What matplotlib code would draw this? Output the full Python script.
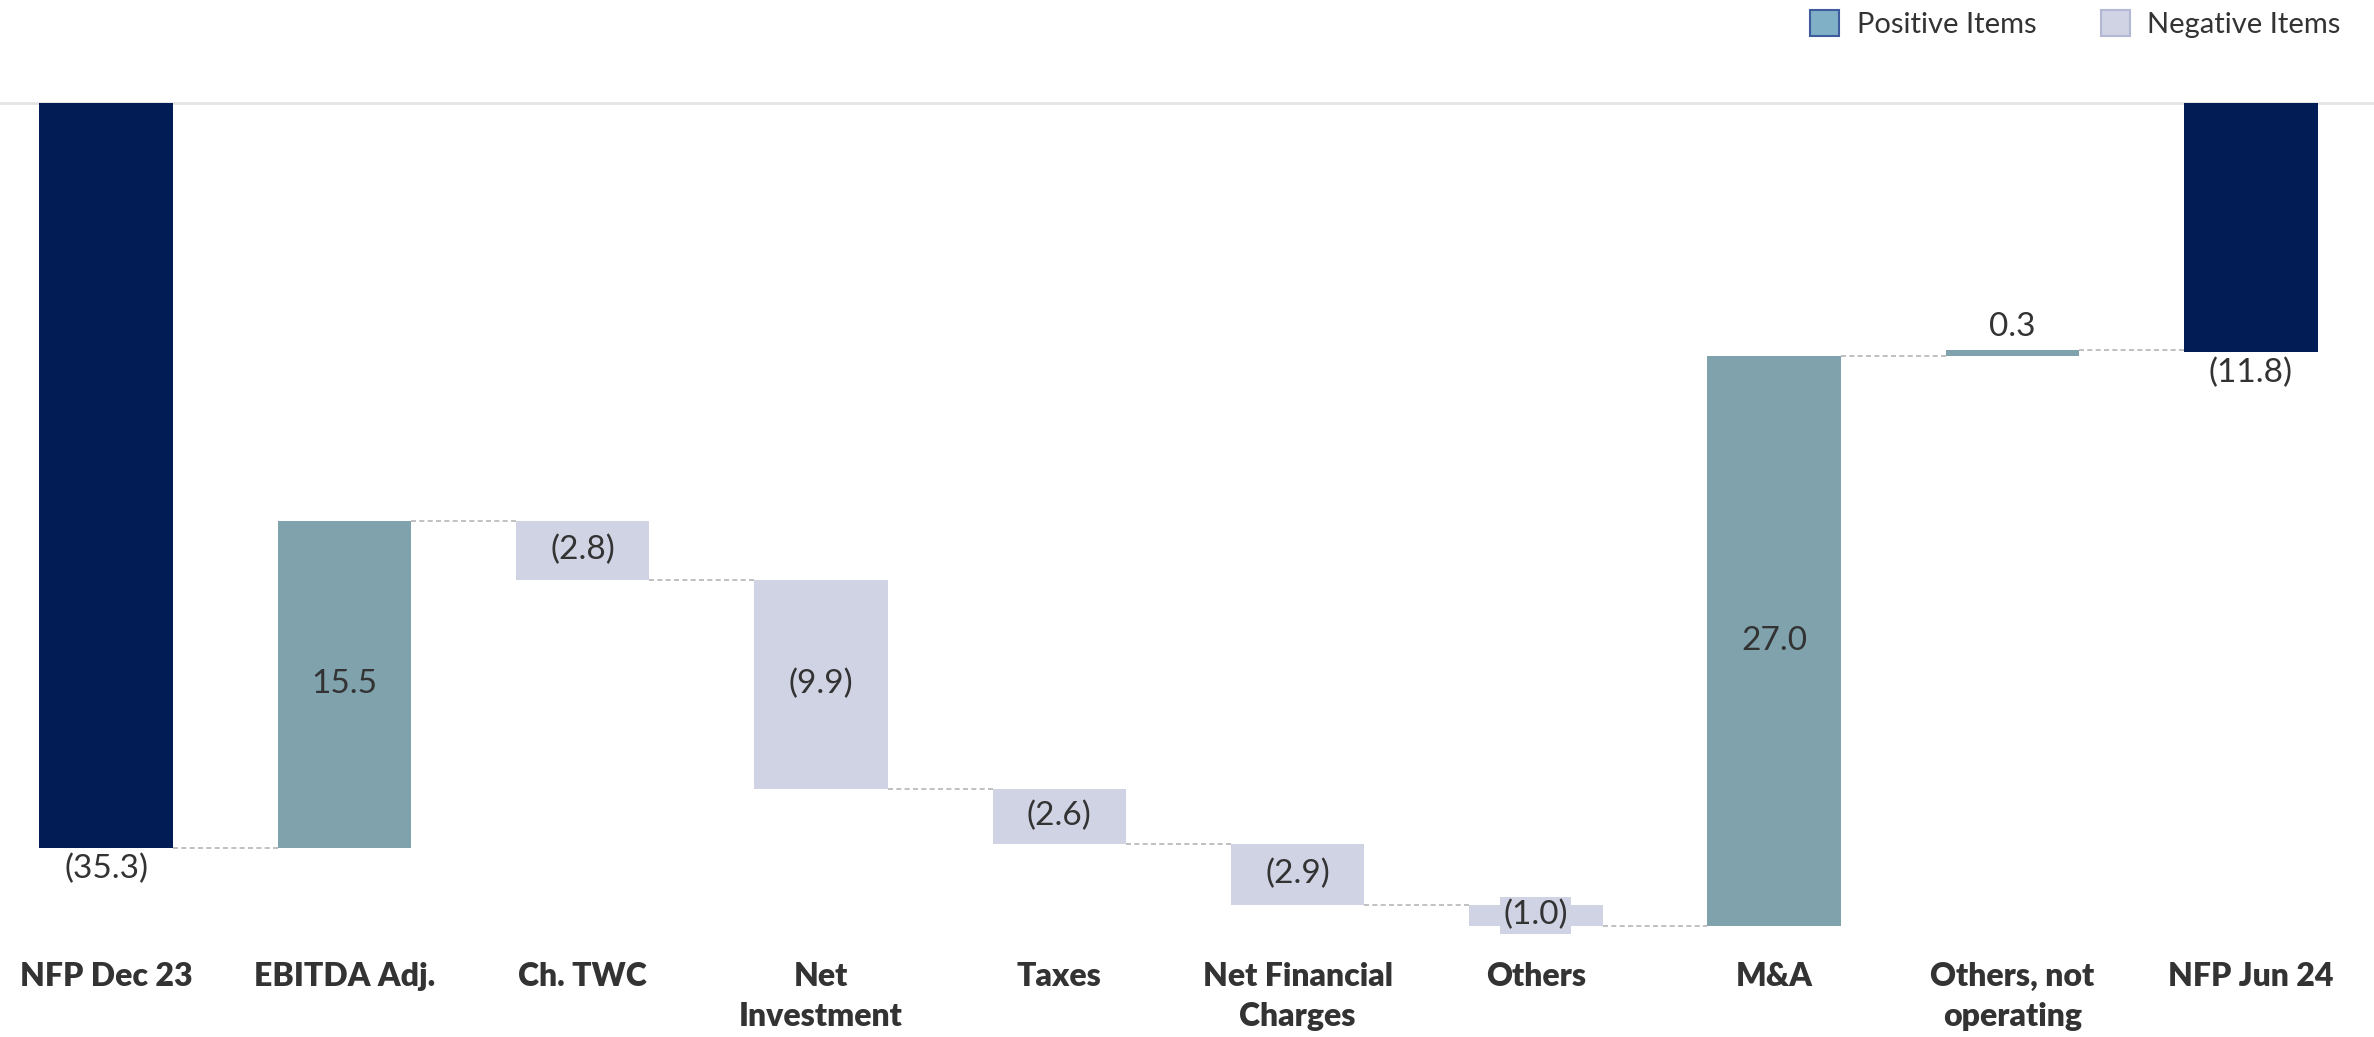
#!/usr/bin/env python3
"""NFP bridge waterfall, Dec 23 -> Jun 24."""
import matplotlib

matplotlib.use("Agg")
import matplotlib.pyplot as plt
from matplotlib.patches import Patch
import numpy as np

categories = ["NFP Dec 23", "EBITDA Adj.", "Ch. TWC", "Net\nInvestment", "Taxes",
              "Net Financial\nCharges", "Others", "M&A", "Others, not\noperating", "NFP Jun 24"]
start_total = -35.3
deltas = [15.5, -2.8, -9.9, -2.6, -2.9, -1.0, 27.0, 0.3]
end_total = -11.8

NAVY = "#021c56"
POS = "#7fa2ad"
NEG = "#d0d3e3"
TXT = "#333333"
FS = 24

plt.rcParams["font.family"] = ["Lato", "DejaVu Sans"]

fig = plt.figure(figsize=(23.74, 10.37), dpi=100)
ax = fig.add_axes([0.0, 1 - 940 / 1037, 1.0, (940 - 103) / 1037])

x = np.arange(len(categories))
w = 0.56

# running levels
levels = [start_total]
for d in deltas:
    levels.append(levels[-1] + d)

# totals
for xi, val in [(x[0], start_total), (x[-1], end_total)]:
    ax.bar(xi, val, width=w, color=NAVY, zorder=3)
    ax.annotate(f"({abs(val):.1f})", (xi, val), xytext=(0, -4), textcoords="offset points",
                ha="center", va="top", fontsize=FS, color=TXT)

# deltas
for i, d in enumerate(deltas):
    xi = x[i + 1]
    lo, hi = levels[i], levels[i + 1]
    bottom = min(lo, hi)
    color = POS if d > 0 else NEG
    ax.bar(xi, abs(d), bottom=bottom, width=w, color=color, zorder=3)
    txt = f"{d:.1f}" if d > 0 else f"({abs(d):.1f})"
    if abs(d) < 0.5:
        ax.annotate(txt, (xi, max(lo, hi)), xytext=(0, 6), textcoords="offset points",
                    ha="center", va="bottom", fontsize=FS, color=TXT)
    elif d > 0:
        ax.text(xi, bottom + abs(d) / 2, txt, ha="center", va="center", fontsize=FS, color=TXT, zorder=4)
    else:
        ax.text(xi, bottom + abs(d) / 2, txt, ha="center", va="center", fontsize=FS, color=TXT, zorder=4,
                bbox=dict(boxstyle="square,pad=0.1", fc=NEG, ec="none"))

# connectors
for i in range(len(categories) - 1):
    ax.plot([x[i] + w / 2, x[i + 1] - w / 2], [levels[i], levels[i]],
            ls=(0, (3, 2)), color="#b5b5b5", lw=1.2, zorder=2)

ax.set_xlim(-0.445, 9.517)
ax.set_ylim(-(940 - 103) / 21.1, 0)
ax.set_xticks(x)
ax.set_xticklabels(categories, fontsize=23, fontweight="heavy", color=TXT, linespacing=1.45)
ax.tick_params(axis="x", length=0, pad=16)
ax.set_yticks([])
for s in ["left", "right", "bottom"]:
    ax.spines[s].set_visible(False)
ax.spines["top"].set_color("#e3e3e3")
ax.spines["top"].set_linewidth(2)

handles = [Patch(fc="#7fb0c5", ec="#3f5c9e", lw=1.5, label="Positive Items"),
           Patch(fc=NEG, ec="#b3b8d4", lw=1.5, label="Negative Items")]
leg = fig.legend(handles=handles, loc="upper right", bbox_to_anchor=(0.997, 1.016), ncol=2,
                 frameon=False, fontsize=21, handlelength=1.0, handleheight=1.0,
                 columnspacing=2.2, handletextpad=0.6)
for t in leg.get_texts():
    t.set_color(TXT)

fig.savefig("out.png", dpi=100)
